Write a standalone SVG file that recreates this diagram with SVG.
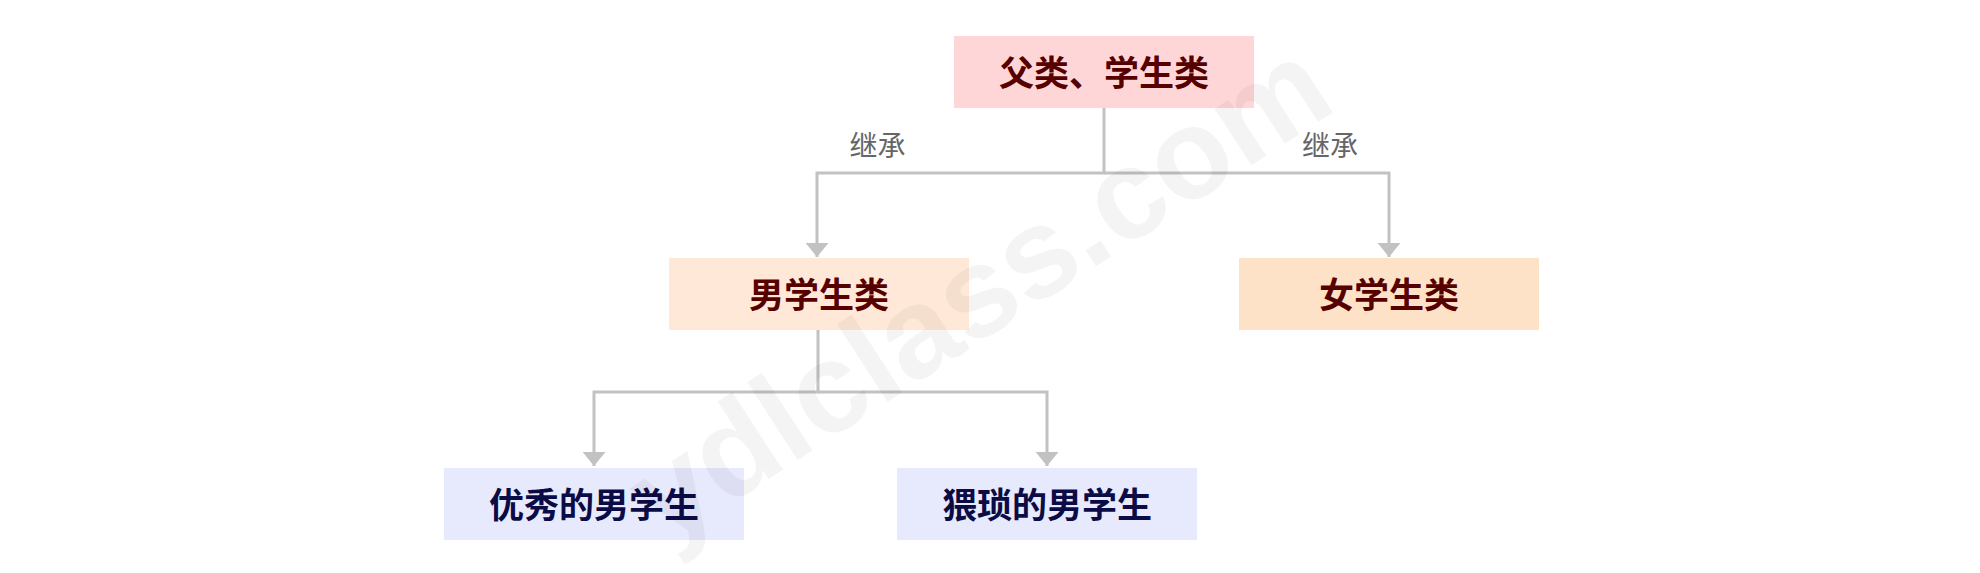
<svg xmlns="http://www.w3.org/2000/svg" width="1980" height="573" viewBox="0 0 1980 573">
<style>
.node-text{font-family:"Noto Sans CJK SC","Noto Sans",sans-serif;font-weight:700;font-size:35px;text-anchor:middle}
.dark{fill:#560000}
.navy{fill:#0b0b45}
.label{font-family:"Noto Sans CJK SC","Noto Sans",sans-serif;font-weight:400;font-size:28px;fill:#666666;text-anchor:middle}
.conn{fill:none;stroke:#c2c2c2;stroke-width:3;marker-end:url(#arrow)}
.wm{font-family:"Liberation Sans","Open Sans",sans-serif;font-weight:700;font-size:128px;fill:#000000;fill-opacity:0.045;text-anchor:middle}
</style>
<defs>
<marker id="arrow" markerUnits="userSpaceOnUse" viewBox="0 0 14 23" refX="14" refY="11.5" markerWidth="14" markerHeight="23" orient="auto">
<path d="M0,0 L14,11.5 L0,23 z" fill="#c2c2c2"/>
</marker>
</defs>
<rect width="1980" height="573" fill="#ffffff"/>
<g id="connectors">
<path class="conn" d="M1104,108 V173 H817 V257"/>
<path class="conn" d="M1104,173 H1389 V257"/>
<path class="conn" d="M818,330 V392 H594 V466"/>
<path class="conn" d="M818,392 H1047 V466"/>
<text class="label" x="877.5" y="156">继承</text>
<text class="label" x="1330" y="156">继承</text>
</g>
<g id="node-parent">
<rect x="954" y="36" width="300" height="72" fill="#ffd6d7"/>
<text class="node-text dark" x="1104" y="85.5">父类、学生类</text>
</g>
<g id="node-male">
<rect x="669" y="258" width="300" height="72" fill="#ffe8d7"/>
<text class="node-text dark" x="819" y="307.5">男学生类</text>
</g>
<g id="node-female">
<rect x="1239" y="258" width="300" height="72" fill="#fde2c7"/>
<text class="node-text dark" x="1389" y="307.5">女学生类</text>
</g>
<g id="node-good">
<rect x="444" y="468" width="300" height="72" fill="#e7e9fc"/>
<text class="node-text navy" x="594" y="517.5">优秀的男学生</text>
</g>
<g id="node-bad">
<rect x="897" y="468" width="300" height="72" fill="#e7e9fc"/>
<text class="node-text navy" x="1047" y="517.5">猥琐的男学生</text>
</g>
<text class="wm" x="978" y="290" dominant-baseline="central" transform="rotate(-33 978 290)">ydlclass.com</text>
</svg>
